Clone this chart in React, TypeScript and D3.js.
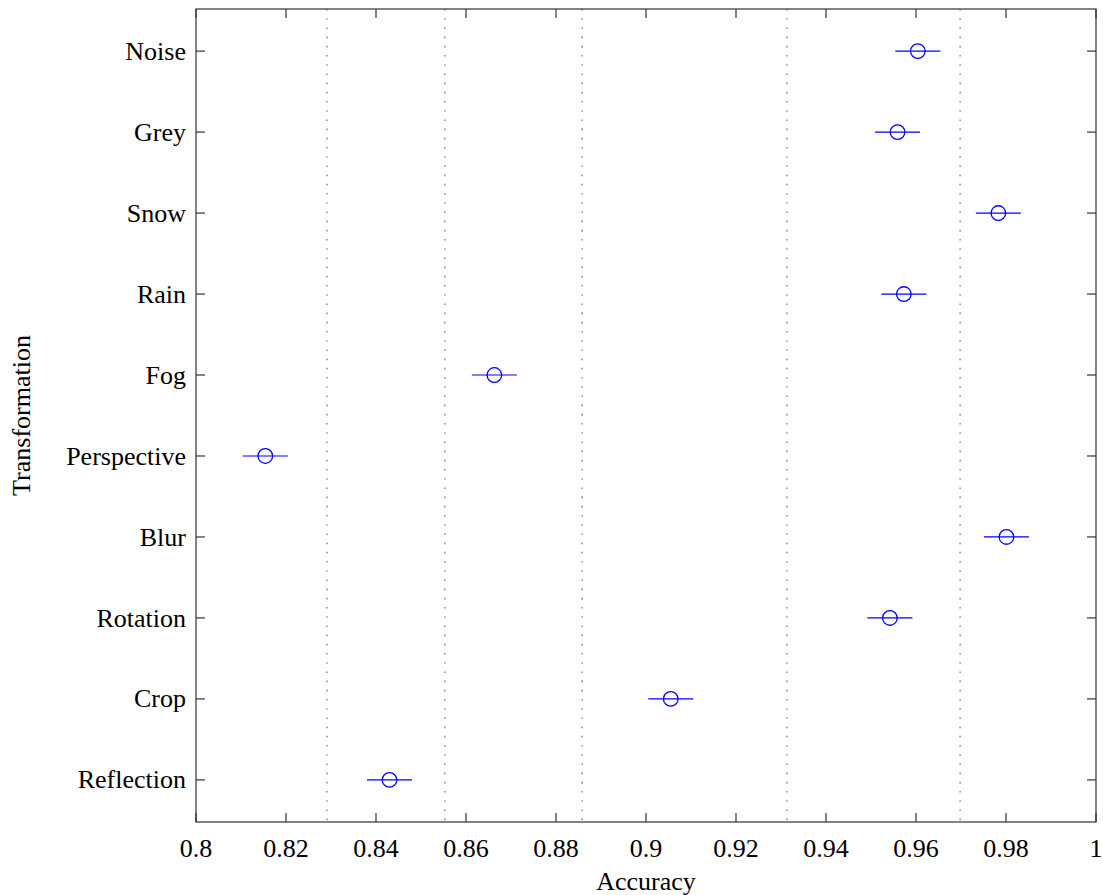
import React, { useEffect, useRef } from 'react';
import * as d3 from 'd3';

// categories top to bottom
const categories = ['Noise', 'Grey', 'Snow', 'Rain', 'Fog', 'Perspective', 'Blur', 'Rotation', 'Crop', 'Reflection'];
const accuracy = [0.9604, 0.9559, 0.9783, 0.9573, 0.8663, 0.8154, 0.9801, 0.9542, 0.9055, 0.843];
const errors = [0.005, 0.005, 0.005, 0.005, 0.005, 0.005, 0.005, 0.005, 0.005, 0.005];
const refLines = [0.8291, 0.8553, 0.8858, 0.9313, 0.9698];
const xTicks = [0.8, 0.82, 0.84, 0.86, 0.88, 0.9, 0.92, 0.94, 0.96, 0.98, 1];

const FONT = '"Liberation Serif", "Times New Roman", serif';

export default function App() {
    const ref = useRef<SVGSVGElement>(null);

    useEffect(() => {
        const W = 1103, H = 895;
        const margin = { top: 9, right: 7, bottom: 73, left: 196 };
        const w = W - margin.left - margin.right;
        const h = H - margin.top - margin.bottom;

        const svg = d3.select(ref.current);
        svg.selectAll('*').remove();
        const g = svg.append('g').attr('transform', `translate(${margin.left},${margin.top})`);

        const x = d3.scaleLinear().domain([0.8, 1]).range([0, w]);
        const y = d3.scalePoint<string>().domain(categories).range([0, h]).padding(0.52);

        // dotted reference lines
        g.selectAll('.ref').data(refLines).join('line')
            .attr('x1', d => x(d)).attr('x2', d => x(d))
            .attr('y1', 0).attr('y2', h)
            .attr('stroke', '#666').attr('stroke-width', 1.1)
            .attr('stroke-dasharray', '1.6 7.6');

        // frame
        g.append('rect').attr('width', w).attr('height', h)
            .attr('fill', 'none').attr('stroke', '#333').attr('stroke-width', 1.2);

        const tl = 9;
        // x ticks bottom + top, inward
        g.selectAll('.xtb').data(xTicks).join('line')
            .attr('x1', d => x(d)).attr('x2', d => x(d))
            .attr('y1', h).attr('y2', h - tl)
            .attr('stroke', '#333').attr('stroke-width', 1.2);
        g.selectAll('.xtt').data(xTicks).join('line')
            .attr('x1', d => x(d)).attr('x2', d => x(d))
            .attr('y1', 0).attr('y2', tl)
            .attr('stroke', '#333').attr('stroke-width', 1.2);
        g.selectAll('.xl').data(xTicks).join('text')
            .attr('x', d => x(d)).attr('y', h + 35)
            .attr('text-anchor', 'middle')
            .style('font-family', FONT).style('font-size', '26px')
            .text(d => d3.format('~g')(d));

        // y ticks left + right, inward
        g.selectAll('.ytl').data(categories).join('line')
            .attr('x1', 0).attr('x2', tl)
            .attr('y1', d => y(d)!).attr('y2', d => y(d)!)
            .attr('stroke', '#333').attr('stroke-width', 1.2);
        g.selectAll('.ytr').data(categories).join('line')
            .attr('x1', w).attr('x2', w - tl)
            .attr('y1', d => y(d)!).attr('y2', d => y(d)!)
            .attr('stroke', '#333').attr('stroke-width', 1.2);
        g.selectAll('.yl').data(categories).join('text')
            .attr('x', -10).attr('y', d => y(d)!)
            .attr('dy', '0.33em')
            .attr('text-anchor', 'end')
            .style('font-family', FONT).style('font-size', '26px')
            .text(d => d);

        // error bars + markers
        const pts = categories.map((c, i) => ({ c, v: accuracy[i], e: errors[i] }));
        g.selectAll('.eb').data(pts).join('line')
            .attr('x1', d => x(d.v - d.e)).attr('x2', d => x(d.v + d.e))
            .attr('y1', d => y(d.c)!).attr('y2', d => y(d.c)!)
            .attr('stroke', '#0000ff').attr('stroke-width', 1.2);
        g.selectAll('.pt').data(pts).join('circle')
            .attr('cx', d => x(d.v)).attr('cy', d => y(d.c)!)
            .attr('r', 7.3)
            .attr('fill', 'none').attr('stroke', '#0000ff').attr('stroke-width', 1.3);

        // axis titles
        svg.append('text')
            .attr('x', margin.left + w / 2).attr('y', H - 5)
            .attr('text-anchor', 'middle')
            .style('font-family', FONT).style('font-size', '26px')
            .text('Accuracy');
        svg.append('text')
            .attr('transform', `translate(30,${margin.top + h / 2}) rotate(-90)`)
            .attr('text-anchor', 'middle')
            .style('font-family', FONT).style('font-size', '26px')
            .text('Transformation');
    }, []);

    return <svg ref={ref} width={1103} height={895}
        style={{ position: 'absolute', left: 0, top: 0, background: '#fff' }} />;
}
